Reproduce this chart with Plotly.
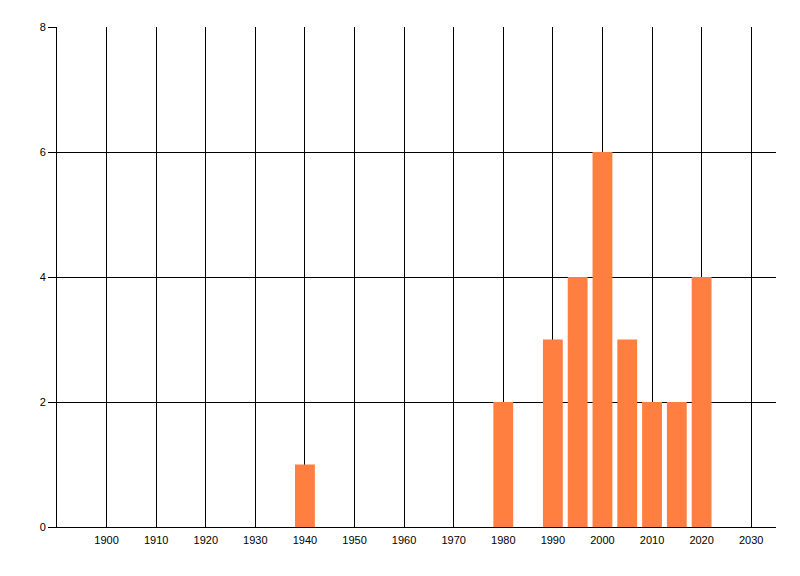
import plotly.graph_objects as go

# Données : nombre par année
annees = [1940, 1980, 1990, 1995, 2000, 2005, 2010, 2015, 2020]
valeurs = [1, 2, 3, 4, 6, 3, 2, 2, 4]
x_ticks = list(range(1900, 2031, 10))
y_ticks = [0, 2, 4, 6, 8]

fig = go.Figure()
fig.add_trace(go.Bar(
    x=annees,
    y=valeurs,
    width=4,
    marker=dict(color="#FF7F40", line=dict(width=0)),
))

# la page ajoute une marge de 8 px autour de la figure
fig.update_layout(
    width=784,
    height=560,
    margin=dict(l=49, r=16, t=19, b=41),
    paper_bgcolor="white",
    plot_bgcolor="white",
    showlegend=False,
    font=dict(family="Liberation Sans, DejaVu Sans, sans-serif", size=11, color="black"),
    xaxis=dict(
        range=[1890, 2035],
        tickmode="array",
        tickvals=x_ticks,
        showgrid=True,
        gridcolor="black",
        gridwidth=1,
        showline=True,
        linecolor="black",
        linewidth=1,
        ticks="",
        ticklabelstandoff=3,
        zeroline=False,
        automargin=False,
    ),
    yaxis=dict(
        range=[0, 8],
        tickmode="array",
        tickvals=y_ticks,
        showgrid=True,
        gridcolor="black",
        gridwidth=1,
        showline=True,
        linecolor="black",
        linewidth=1,
        ticks="outside",
        ticklen=8,
        tickcolor="black",
        zeroline=False,
        automargin=False,
    ),
)

fig.write_html("out.html")
